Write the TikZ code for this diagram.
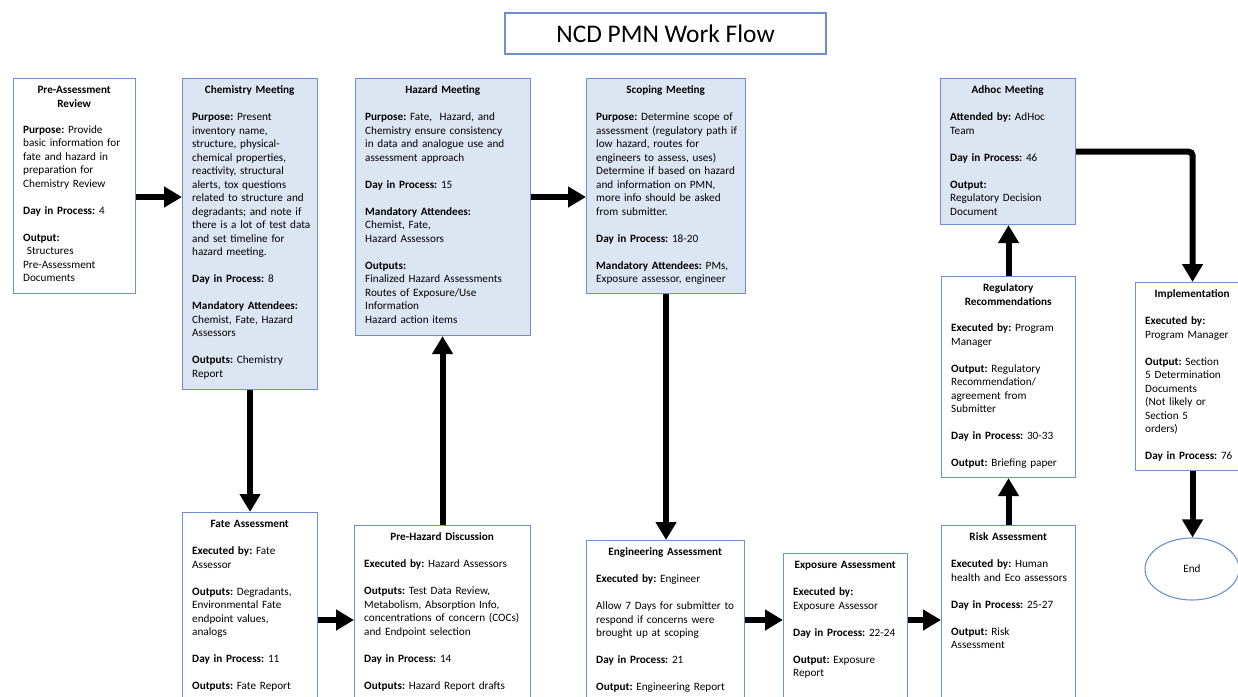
\documentclass[tikz,border=0pt]{standalone}
\usepackage{fontspec}
\setmainfont{Carlito}
\usetikzlibrary{arrows.meta,shapes.geometric}
\definecolor{boxline}{HTML}{6D8FCF}
\definecolor{boxfill}{HTML}{DCE6F2}
\newcommand{\boxtitle}[1]{\parbox[t]{\dimexpr\linewidth-6pt\relax}{\centering\bfseries\strut #1\strut}}
\newcommand{\gapline}{\\[13.5pt]}
\frenchspacing

\begin{document}
\begin{tikzpicture}[x=1pt,y=-1pt]
\tikzstyle{whitebox}=[draw=boxline, line width=1.1pt, fill=white, rectangle, inner sep=0pt, anchor=north west]
\tikzstyle{bluebox}=[whitebox, fill=boxfill]
\tikzstyle{boxtext}=[anchor=north west, inner sep=0pt, align=left, font=\fontsize{11.2}{13.5}\selectfont\frenchspacing]
\tikzstyle{flow}=[line width=6pt, -{Triangle[length=18pt,width=20pt]}]
    \useasboundingbox (0,0) rectangle (1238,696);

    \node[draw=boxline, line width=1.1pt, minimum width=321pt, minimum height=41pt, font=\fontsize{25.4}{30}\selectfont] (title) at (665.5,33.5) {NCD PMN Work Flow};

    % top row
    \node[whitebox, minimum width=122pt, minimum height=215pt] (pre) at (13,78) {};
    \node[bluebox, minimum width=135pt, minimum height=311pt] (chem) at (182,78) {};
    \node[bluebox, minimum width=175pt, minimum height=257pt] (haz) at (355,78) {};
    \node[bluebox, minimum width=159pt, minimum height=215pt] (scope) at (586,78) {};
    \node[bluebox, minimum width=135pt, minimum height=146pt] (adhoc) at (940,78) {};
    \node[whitebox, minimum width=134pt, minimum height=201pt] (reg) at (941,276) {};
    \node[whitebox, minimum width=114pt, minimum height=188pt] (impl) at (1135,282) {};
    \node[draw=boxline, line width=1.1pt, ellipse, minimum width=94pt, minimum height=62pt, font=\fontsize{11.2}{13.5}\selectfont] (finish) at (1192,569) {End};

    % bottom row
    \node[whitebox, minimum width=135pt, minimum height=200pt] (fate) at (182,512) {};
    \node[whitebox, minimum width=176pt, minimum height=200pt] (prehaz) at (354,525) {};
    \node[whitebox, minimum width=158pt, minimum height=200pt] (eng) at (586,540) {};
    \node[whitebox, minimum width=124pt, minimum height=200pt] (expo) at (783,553) {};
    \node[whitebox, minimum width=134pt, minimum height=200pt] (risk) at (941,525) {};

    % box texts
    \node[boxtext, text width=108pt] (pre-txt) at ([shift={(10,6)}]pre.north west) {\boxtitle{Pre-Assessment\\Review}\gapline
        \textbf{Purpose:} Provide\\ basic information for\\ fate and hazard in\\ preparation for\\ Chemistry Review\gapline
        \textbf{Day in Process:} 4\gapline
        \textbf{Output:}\\ \ Structures\\ Pre-Assessment\\ Documents};
    \node[boxtext, text width=121pt] (chem-txt) at ([shift={(10,6)}]chem.north west) {\boxtitle{Chemistry Meeting}\gapline
        \textbf{Purpose:} Present\\ inventory name,\\ structure, physical-\\ chemical properties,\\ reactivity, structural\\ alerts, tox questions\\ related to structure and\\ degradants; and note if\\ there is a lot of test data\\ and set timeline for\\ hazard meeting.\gapline
        \textbf{Day in Process:} 8\gapline
        \textbf{Mandatory Attendees:}\\ Chemist, Fate, Hazard\\ Assessors\gapline
        \textbf{Outputs:} Chemistry\\ Report};
    \node[boxtext, text width=161pt] (haz-txt) at ([shift={(10,6)}]haz.north west) {\boxtitle{Hazard Meeting}\gapline
        \textbf{Purpose:} Fate,\ \ Hazard, and\\ Chemistry ensure consistency\\ in data and analogue use and\\ assessment approach\gapline
        \textbf{Day in Process:} 15\gapline
        \textbf{Mandatory Attendees:}\\ Chemist, Fate,\\ Hazard Assessors\gapline
        \textbf{Outputs:}\\ Finalized Hazard Assessments\\ Routes of Exposure/Use\\ Information\\ Hazard action items};
    \node[boxtext, text width=145pt] (scope-txt) at ([shift={(10,6)}]scope.north west) {\boxtitle{Scoping Meeting}\gapline
        \textbf{Purpose:} Determine scope of\\ assessment (regulatory path if\\ low hazard, routes for\\ engineers to assess, uses)\\ Determine if based on hazard\\ and information on PMN,\\ more info should be asked\\ from submitter.\gapline
        \textbf{Day in Process:} 18-20\gapline
        \textbf{Mandatory Attendees:} PMs,\\ Exposure assessor, engineer};
    \node[boxtext, text width=121pt] (adhoc-txt) at ([shift={(10,6)}]adhoc.north west) {\boxtitle{Adhoc Meeting}\gapline
        \textbf{Attended by:} AdHoc\\ Team\gapline
        \textbf{Day in Process:} 46\gapline
        \textbf{Output:}\\ Regulatory Decision\\ Document};
    \node[boxtext, text width=120pt] (reg-txt) at ([shift={(10,6)}]reg.north west) {\boxtitle{Regulatory\\Recommendations}\gapline
        \textbf{Executed by:} Program\\ Manager\gapline
        \textbf{Output:} Regulatory\\ Recommendation/\\ agreement from\\ Submitter\gapline
        \textbf{Day in Process:} 30-33\gapline
        \textbf{Output:} Briefing paper};
    \node[boxtext, text width=100pt] (impl-txt) at ([shift={(10,6)}]impl.north west) {\boxtitle{Implementation}\gapline
        \textbf{Executed by:}\\ Program Manager\gapline
        \textbf{Output:} Section\\ 5 Determination\\ Documents\\ (Not likely or\\ Section 5\\ orders)\gapline
        \textbf{Day in Process:} 76};
    \node[boxtext, text width=121pt] (fate-txt) at ([shift={(10,6)}]fate.north west) {\boxtitle{Fate Assessment}\gapline
        \textbf{Executed by:} Fate\\ Assessor\gapline
        \textbf{Outputs:} Degradants,\\ Environmental Fate\\ endpoint values,\\ analogs\gapline
        \textbf{Day in Process:} 11\gapline
        \textbf{Outputs:} Fate Report};
    \node[boxtext, text width=162pt] (prehaz-txt) at ([shift={(10,6)}]prehaz.north west) {\boxtitle{Pre-Hazard Discussion}\gapline
        \textbf{Executed by:} Hazard Assessors\gapline
        \textbf{Outputs:} Test Data Review,\\ Metabolism, Absorption Info,\\ concentrations of concern (COCs)\\ and Endpoint selection\gapline
        \textbf{Day in Process:} 14\gapline
        \textbf{Outputs:} Hazard Report drafts};
    \node[boxtext, text width=144pt] (eng-txt) at ([shift={(10,6)}]eng.north west) {\boxtitle{Engineering Assessment}\gapline
        \textbf{Executed by:} Engineer\gapline
        Allow 7 Days for submitter to\\ respond if concerns were\\ brought up at scoping\gapline
        \textbf{Day in Process:} 21\gapline
        \textbf{Output:} Engineering Report};
    \node[boxtext, text width=110pt] (expo-txt) at ([shift={(10,6)}]expo.north west) {\boxtitle{Exposure Assessment}\gapline
        \textbf{Executed by:}\\ Exposure Assessor\gapline
        \textbf{Day in Process:} 22-24\gapline
        \textbf{Output:} Exposure\\ Report};
    \node[boxtext, text width=120pt] (risk-txt) at ([shift={(10,6)}]risk.north west) {\boxtitle{Risk Assessment}\gapline
        \textbf{Executed by:} Human\\ health and Eco assessors\gapline
        \textbf{Day in Process:} 25-27\gapline
        \textbf{Output:} Risk\\ Assessment};

    % connectors
    \coordinate (row1) at (0,197);
    \coordinate (row2) at (0,620);
    \draw[flow] (pre.east |- row1) -- (chem.west |- row1);
    \draw[flow] (haz.east |- row1) -- (scope.west |- row1);
    \draw[flow] (chem.south) -- (chem.south |- fate.north);
    \draw[flow] (prehaz.north) -- (prehaz.north |- haz.south);
    \draw[flow] (scope.south) -- (scope.south |- eng.north);
    \draw[flow] (fate.east |- row2) -- (prehaz.west |- row2);
    \draw[flow] (eng.east |- row2) -- (expo.west |- row2);
    \draw[flow] (expo.east |- row2) -- (risk.west |- row2);
    \draw[flow] (risk.north) -- (risk.north |- reg.south);
    \draw[flow] (reg.north) -- (reg.north |- adhoc.south);
    \draw[flow, rounded corners=4pt] (adhoc.east) -| (impl.north);
    \draw[flow] (impl.south) -- (impl.south |- finish.north);
\end{tikzpicture}
\end{document}
